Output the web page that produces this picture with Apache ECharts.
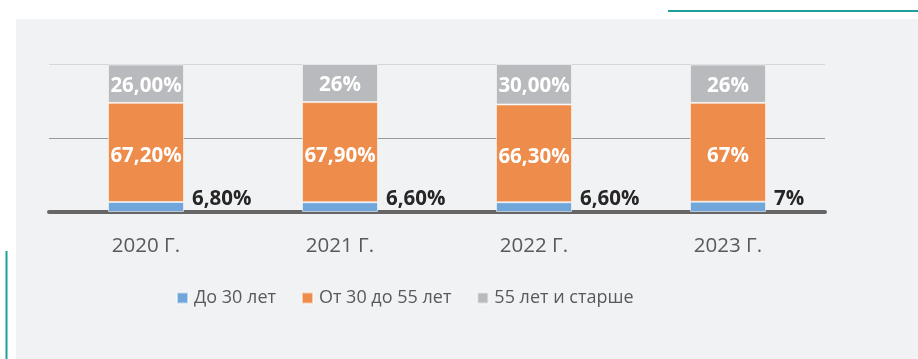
<!DOCTYPE html>
<html>
<head>
<meta charset="utf-8">
<script src="https://cdn.jsdelivr.net/npm/echarts@6/dist/echarts.min.js"></script>
<style>
  html, body { margin: 0; padding: 0; background: #ffffff; }
  #chart { width: 918px; height: 359px; }
</style>
</head>
<body>
<div id="chart"></div>
<script>
// Age structure of staff by year, % of headcount
const categories = ['2020 Г.', '2021 Г.', '2022 Г.', '2023 Г.'];
const seriesNames = ['До 30 лет', 'От 30 до 55 лет', '55 лет и старше'];
const under30 = [6.8, 6.6, 6.6, 7];
const from30to55 = [67.2, 67.9, 66.3, 67];
const over55 = [26, 26, 30, 26];
// number of decimals shown in each value label
const under30Decimals = [2, 2, 2, 0];
const from30to55Decimals = [2, 2, 2, 0];
const over55Decimals = [2, 0, 2, 0];
const yTicks = [0, 50, 100];

const FONT = '"Open Sans", "Noto Sans", sans-serif';
const fmt = (decimals) => (p) => p.value.toFixed(decimals[p.dataIndex]).replace('.', ',') + '%';

const chart = echarts.init(document.getElementById('chart'), null, { renderer: 'canvas' });

const barBase = {
  type: 'bar',
  stack: 'total',
  barWidth: 76,
  clip: true
};
const edge = { borderColor: 'rgba(255,255,255,0.55)', borderWidth: 1 };

chart.setOption({
  backgroundColor: '#ffffff',
  animation: false,
  textStyle: { fontFamily: FONT },
  graphic: [
    { type: 'rect', z: -10, silent: true, shape: { x: 16, y: 19, width: 902, height: 340 }, style: { fill: '#f1f2f4' } },
    { type: 'line', z: -5, silent: true, shape: { x1: 668, y1: 11, x2: 918, y2: 11 }, style: { stroke: '#1f9f9a', lineWidth: 2 } },
    { type: 'line', z: -5, silent: true, shape: { x1: 6.5, y1: 251, x2: 6.5, y2: 359 }, style: { stroke: '#1f9f9a', lineWidth: 2 } }
  ],
  grid: { left: 49, right: 93, top: 64.5, bottom: 147, containLabel: false },
  legend: {
    left: 176,
    top: 289,
    padding: 0,
    itemWidth: 11,
    itemHeight: 11,
    itemGap: 25,
    icon: 'rect',
    data: seriesNames,
    textStyle: { fontFamily: FONT, fontSize: 18, color: '#595959', padding: [0, 0, 0, 1] }
  },
  xAxis: {
    type: 'category',
    data: categories,
    offset: 2,
    axisLine: { lineStyle: { color: '#666666', width: 4 } },
    axisTick: { show: false },
    axisLabel: { color: '#595959', fontSize: 20.5, fontFamily: FONT, margin: 22 }
  },
  yAxis: {
    type: 'value',
    min: yTicks[0],
    max: yTicks[yTicks.length - 1],
    interval: yTicks[1] - yTicks[0],
    axisLabel: { show: false },
    axisLine: { show: false },
    axisTick: { show: false },
    splitLine: { lineStyle: { color: ['#f1f2f4', '#9a9a9a', '#d6d7d9'], width: 1 } }
  },
  series: [
    Object.assign({}, barBase, {
      name: seriesNames[0],
      data: under30,
      itemStyle: Object.assign({ color: '#71a6da' }, edge),
      label: {
        show: true, position: 'right', distance: 8, offset: [0, -8],
        color: '#262626', fontWeight: 'bold', fontSize: 20.5, fontFamily: FONT,
        formatter: fmt(under30Decimals)
      }
    }),
    Object.assign({}, barBase, {
      name: seriesNames[1],
      data: from30to55,
      itemStyle: Object.assign({ color: '#ed8c4b' }, edge),
      label: {
        show: true, position: 'inside', offset: [0, 4],
        color: '#ffffff', fontWeight: 'bold', fontSize: 20.5, fontFamily: FONT,
        formatter: fmt(from30to55Decimals)
      }
    }),
    Object.assign({}, barBase, {
      name: seriesNames[2],
      data: over55,
      itemStyle: Object.assign({ color: '#b9babd' }, edge),
      label: {
        show: true, position: 'inside', offset: [0, 2],
        color: '#ffffff', fontWeight: 'bold', fontSize: 20.5, fontFamily: FONT,
        formatter: fmt(over55Decimals)
      }
    })
  ]
});
</script>
</body>
</html>
